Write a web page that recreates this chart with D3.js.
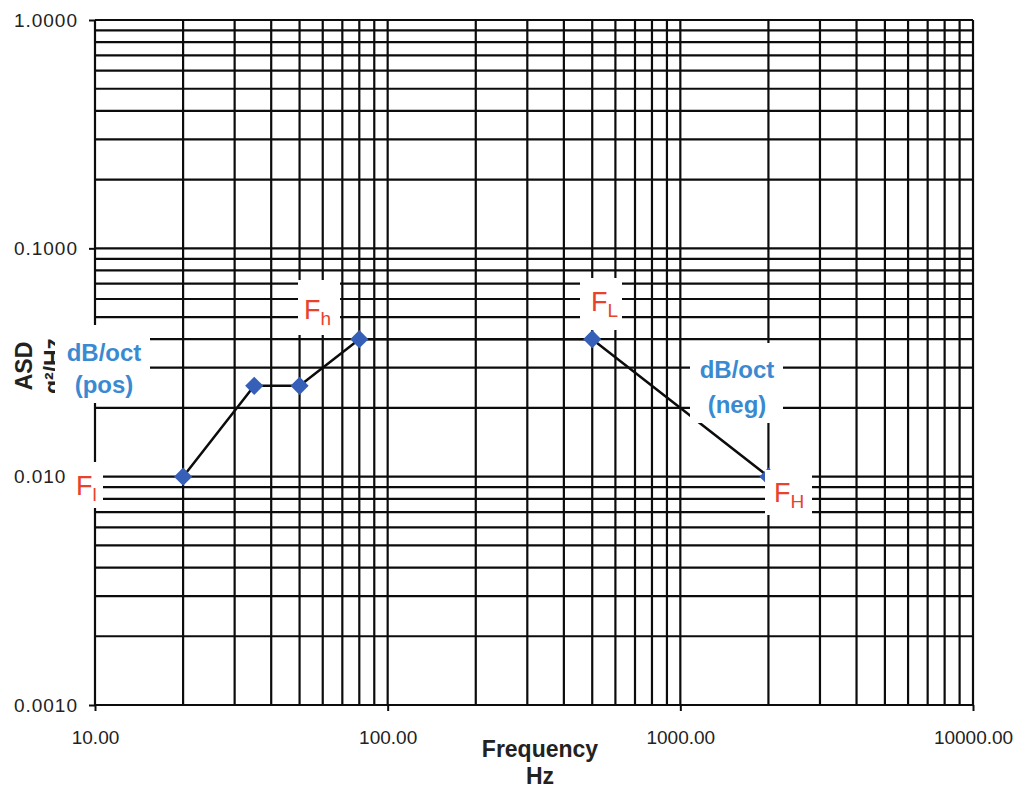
<!DOCTYPE html>
<html><head><meta charset="utf-8">
<script src="https://cdn.jsdelivr.net/npm/d3@7"></script>
<style>body{margin:0;background:#fff}svg{display:block}</style>
</head><body><svg id="c" width="1023" height="792"></svg>
<script>
// ---- data ----
const freqHz = [20, 35, 50, 80, 500, 2000];
const asdValues = [0.01, 0.025, 0.025, 0.04, 0.04, 0.01];
const xTickValues = [10, 100, 1000, 10000];
const xTickLabels = ["10.00", "100.00", "1000.00", "10000.00"];
const yTickValues = [0.001, 0.01, 0.1, 1];
const yTickLabels = ["0.0010", "0.0100", "0.1000", "1.0000"];
const xTitle = ["Frequency", "Hz"];
const yTitle = ["ASD", "g²/Hz"];
const slopeLabels = [["dB/oct", "(pos)"], ["dB/oct", "(neg)"]];
const freqLabels = [["F", "l"], ["F", "h"], ["F", "L"], ["F", "H"]];

// ---- layout ----
const svg = d3.select("#c");
const L = 95, R = 973, T = 20, B = 705;
const x = d3.scaleLog().domain([10, 10000]).range([L, R]);
const y = d3.scaleLog().domain([0.001, 1]).range([B, T]);
const INK = "#0c0c0c";
const BLUE = "#3a8ad2", RED = "#e8422c", MARK = "#3660b8";
const font = "Liberation Sans, Arial, sans-serif";

// grid
const g = svg.append("g");
g.selectAll("line.v").data(x.ticks()).join("line")
  .attr("x1", d => x(d)).attr("x2", d => x(d)).attr("y1", T).attr("y2", B)
  .attr("stroke", INK).attr("stroke-width", 2.2);
g.selectAll("line.h").data(y.ticks()).join("line")
  .attr("y1", d => y(d)).attr("y2", d => y(d)).attr("x1", L).attr("x2", R)
  .attr("stroke", INK).attr("stroke-width", 2.2);

// axes
const yAxis = svg.append("g").attr("transform", `translate(${L},0)`)
  .call(d3.axisLeft(y).tickValues(yTickValues).tickSize(6).tickPadding(11)
    .tickFormat((d, i) => yTickLabels[i]));
const xAxis = svg.append("g").attr("transform", `translate(0,${B})`)
  .call(d3.axisBottom(x).tickValues(xTickValues).tickSize(6).tickPadding(20)
    .tickFormat((d, i) => xTickLabels[i]));
[yAxis, xAxis].forEach(a => {
  a.select(".domain").remove();
  a.selectAll(".tick line").attr("stroke", INK).attr("stroke-width", 2);
  a.selectAll(".tick text").attr("fill", "#222")
    .style("font-family", font).style("font-size", "19px");
});
yAxis.selectAll(".tick text").style("letter-spacing", "1px");

// data line + markers
const pts = freqHz.map((f, i) => [f, asdValues[i]]);
svg.append("path").datum(pts)
  .attr("d", d3.line().x(d => x(d[0])).y(d => y(d[1])))
  .attr("fill", "none").attr("stroke", INK).attr("stroke-width", 2.5);
svg.selectAll("path.m").data(pts).join("path")
  .attr("d", d3.symbol(d3.symbolSquare, 165)())
  .attr("transform", d => `translate(${x(d[0])},${y(d[1])}) rotate(45)`)
  .attr("fill", MARK);

// y title (drawn before boxes so the box clips it as in the original)
svg.append("text").attr("transform", "translate(32,366) rotate(-90)")
  .attr("text-anchor", "middle").attr("font-family", font).attr("font-weight", "bold")
  .attr("font-size", 23).attr("fill", "#222").text(yTitle[0]);
svg.append("text").attr("transform", "translate(61,366) rotate(-90)")
  .attr("text-anchor", "middle").attr("font-family", font).attr("font-weight", "bold")
  .attr("font-size", 23).attr("fill", "#222").text(yTitle[1]);

// white label boxes
const boxes = [
  [55, 325, 150, 403], [67, 462, 103, 508], [298, 280, 340, 335],
  [580, 278, 622, 330], [690, 343, 783, 423], [765, 470, 812, 515]
];
svg.selectAll("rect.b").data(boxes).join("rect")
  .attr("x", d => d[0]).attr("y", d => d[1])
  .attr("width", d => d[2] - d[0]).attr("height", d => d[3] - d[1])
  .attr("fill", "#fff");

// slope labels
const slopePos = [[104, 361, 393], [737, 378, 413]];
slopeLabels.forEach((lab, i) => {
  const p = slopePos[i];
  [0, 1].forEach(j => svg.append("text")
    .attr("x", p[0]).attr("y", p[1 + j]).attr("text-anchor", "middle")
    .attr("font-family", font).attr("font-weight", "bold").attr("font-size", 24)
    .attr("fill", BLUE).text(lab[j]));
});

// frequency labels
const fPos = [[76, 495], [304, 319], [591, 311], [774, 502]];
freqLabels.forEach((lab, i) => {
  const t = svg.append("text").attr("x", fPos[i][0]).attr("y", fPos[i][1])
    .attr("font-family", font).attr("font-size", 27).attr("fill", RED);
  t.append("tspan").text(lab[0]);
  t.append("tspan").attr("dy", 6).attr("font-size", 19).text(lab[1]);
});

// x title
xTitle.forEach((s, i) => svg.append("text").attr("x", 540).attr("y", 757 + i * 27)
  .attr("text-anchor", "middle").attr("font-family", font).attr("font-weight", "bold")
  .attr("font-size", 23).attr("fill", "#222").text(s));
</script></body></html>
